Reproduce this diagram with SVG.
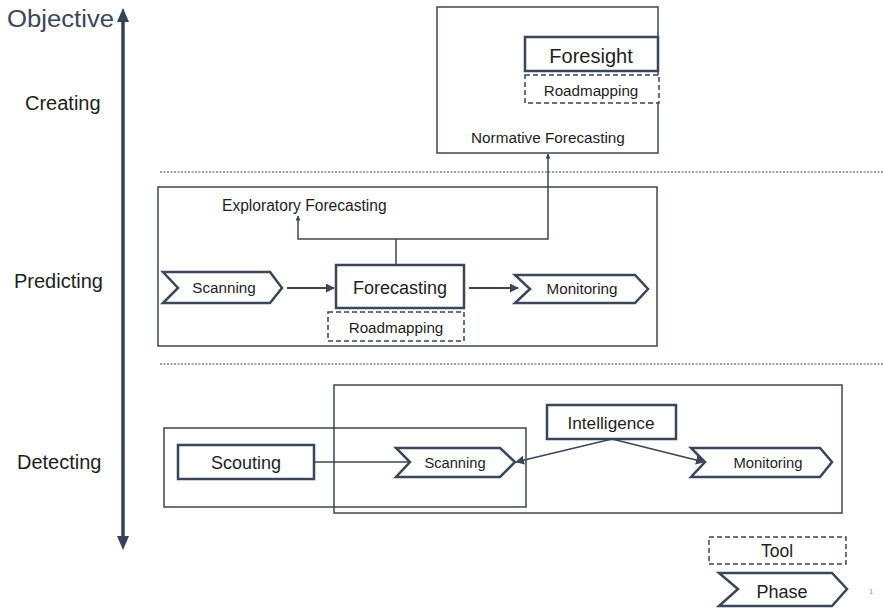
<svg xmlns="http://www.w3.org/2000/svg" width="883" height="608" viewBox="0 0 883 608">
  <style>
    text { font-family: "Liberation Sans", Arial, sans-serif; fill: #1e1e1e; }
    .frame { fill: none; stroke: #3b4658; stroke-width: 1.5; }
    .box { fill: #ffffff; stroke: #3b4658; stroke-width: 2.5; }
    .tool { fill: #ffffff; stroke: #3b4658; stroke-width: 1.5; stroke-dasharray: 5 3; }
    .phase { fill: #ffffff; stroke: #3b4658; stroke-width: 2.5; stroke-linejoin: miter; }
    .sep { stroke: #3b4658; stroke-width: 1.2; stroke-dasharray: 2 1.5; }
    .conn { fill: none; stroke: #3b4658; stroke-width: 1.5; }
    .flow { fill: none; stroke: #3b4658; stroke-width: 2.2; }
    .lvl { font-size: 20px; }
    .ph { font-size: 15.2px; text-anchor: middle; }
    .note { font-size: 15.3px; }
  </style>
  <defs>
    <marker id="tip" viewBox="0 0 10 10" refX="9" refY="5" markerWidth="5" markerHeight="5" orient="auto" markerUnits="userSpaceOnUse">
      <path d="M0,0 L10,5 L0,10 z" fill="#3b4658"/>
    </marker>
    <marker id="tipBig" viewBox="0 0 10 10" refX="9" refY="5" markerWidth="9" markerHeight="9" orient="auto" markerUnits="userSpaceOnUse">
      <path d="M0,0 L10,5 L0,10 z" fill="#3b4658"/>
    </marker>
  </defs>

  <!-- Objective axis -->
  <g id="axis">
    <line x1="123" y1="20" x2="123" y2="538" stroke="#35425a" stroke-width="3.5"/>
    <path d="M117,22 L123,8 L129,22 z" fill="#35425a"/>
    <path d="M117,536 L123,550 L129,536 z" fill="#35425a"/>
    <text x="7" y="27" font-size="23" textLength="107" lengthAdjust="spacingAndGlyphs" style="fill:#3b4658;font-weight:300" font-family="Lato, 'Liberation Sans', sans-serif">Objective</text>
    <text class="lvl" x="25" y="110">Creating</text>
    <text class="lvl" x="14" y="288">Predicting</text>
    <text class="lvl" x="17" y="469">Detecting</text>
  </g>

  <!-- level separators -->
  <line class="sep" x1="160" y1="172" x2="883" y2="172"/>
  <line class="sep" x1="160" y1="364" x2="883" y2="364"/>

  <!-- Creating level -->
  <g id="creating">
    <rect class="frame" x="437" y="7" width="221" height="146"/>
    <text class="note" x="471" y="143">Normative Forecasting</text>
  </g>
  <g id="foresight">
    <rect class="box" x="525" y="37" width="133" height="34"/>
    <text x="591" y="63" font-size="20" text-anchor="middle">Foresight</text>
  </g>
  <g id="roadmapping-top">
    <rect class="tool" x="525" y="75" width="134" height="28"/>
    <text class="ph" x="591" y="96">Roadmapping</text>
  </g>

  <!-- Predicting level -->
  <g id="predicting">
    <rect class="frame" x="158" y="187" width="499" height="159"/>
    <text x="222" y="211" font-size="15.6">Exploratory Forecasting</text>
  </g>
  <g id="scanning-p">
    <path class="phase" d="M163,272 L270,272 L282,288 L270,303 L163,303 L178,288 z"/>
    <text class="ph" x="224" y="293">Scanning</text>
  </g>
  <g id="forecasting">
    <rect class="box" x="336" y="265" width="128" height="43"/>
    <text x="400" y="294" font-size="18" text-anchor="middle">Forecasting</text>
  </g>
  <g id="roadmapping-mid">
    <rect class="tool" x="328" y="312" width="136" height="29"/>
    <text class="ph" x="396" y="333">Roadmapping</text>
  </g>
  <g id="monitoring-p">
    <path class="phase" d="M515,275 L635,275 L648,289 L635,303 L515,303 L530,289 z"/>
    <text class="ph" x="582" y="294">Monitoring</text>
  </g>

  <!-- Detecting level -->
  <g id="detecting">
    <rect class="frame" x="334" y="385" width="508" height="128"/>
    <rect class="frame" x="164" y="428" width="362" height="79"/>
  </g>
  <g id="scouting">
    <rect class="box" x="178" y="445" width="136" height="34"/>
    <text x="246" y="469" font-size="18" text-anchor="middle">Scouting</text>
  </g>
  <g id="scanning-d">
    <path class="phase" d="M396,448 L500,448 L515,462 L500,477 L396,477 L410,462 z"/>
    <text x="455" y="468" font-size="14.7" text-anchor="middle">Scanning</text>
  </g>
  <g id="intelligence">
    <rect class="box" x="547" y="405" width="129" height="34"/>
    <text x="611" y="429" font-size="17.2" text-anchor="middle">Intelligence</text>
  </g>
  <g id="monitoring-d">
    <path class="phase" d="M691,448 L820,448 L832,462 L820,477 L691,477 L705,462 z"/>
    <text x="768" y="468" font-size="14.8" text-anchor="middle">Monitoring</text>
  </g>

  <!-- legend -->
  <g id="legend-tool">
    <rect class="tool" x="709" y="537" width="137" height="27"/>
    <text x="777" y="557" font-size="17.5" text-anchor="middle">Tool</text>
  </g>
  <g id="legend-phase">
    <path class="phase" d="M719,573 L832,573 L847,589 L832,606 L719,606 L738,589 z"/>
    <text x="782" y="598" font-size="18" text-anchor="middle">Phase</text>
  </g>
  <text x="869" y="594" font-size="8" style="fill:#9aa0a8">1</text>

  <!-- connectors -->
  <g id="connectors">
    <path class="conn" d="M396,265 L396,239"/>
    <path class="conn" d="M396,239 L548,239 L548,154" marker-end="url(#tip)"/>
    <path class="conn" d="M396,239 L298,239 L298,216" marker-end="url(#tip)"/>
    <path class="flow" d="M287,288 L334,288" marker-end="url(#tipBig)"/>
    <path class="flow" d="M469,288 L518,288" marker-end="url(#tipBig)"/>
    <path class="conn" d="M314,462 L410,462"/>
    <path class="conn" d="M612,439 L516,462" marker-end="url(#tipBig)"/>
    <path class="conn" d="M612,439 L704,462" marker-end="url(#tipBig)"/>
  </g>
</svg>
